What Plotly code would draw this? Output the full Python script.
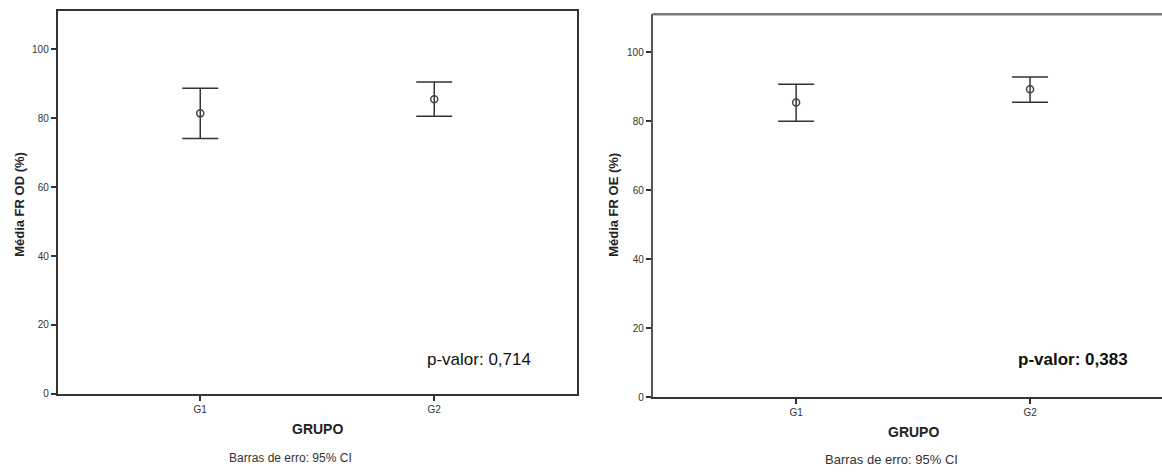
import plotly.graph_objects as go

groups = ["G1", "G2"]
# Left panel: Média FR OD (%)
od_mean = [81.4, 85.5]
od_lower = [74.1, 80.6]
od_upper = [88.7, 90.5]
# Right panel: Média FR OE (%)
oe_mean = [85.4, 89.3]
oe_lower = [80.0, 85.5]
oe_upper = [90.7, 92.8]
y_ticks = [0, 20, 40, 60, 80, 100]

W, H = 1162, 472
LINE = "#333333"
SANS = "Liberation Sans, Arial, sans-serif"


def px_x(p):
    return p / W


def px_y(p):
    return 1 - p / H


def err_trace(means, lows, ups, xa, ya):
    return go.Scatter(
        x=groups, y=means, xaxis=xa, yaxis=ya, mode="markers",
        marker=dict(symbol="circle-open", size=7, color="#444444",
                    line=dict(width=1.5, color="#444444")),
        error_y=dict(type="data", symmetric=False,
                     array=[u - m for u, m in zip(ups, means)],
                     arrayminus=[m - l for m, l in zip(means, lows)],
                     color=LINE, thickness=1.5, width=18),
        showlegend=False, hoverinfo="skip", cliponaxis=False,
    )


fig = go.Figure()
fig.add_trace(err_trace(od_mean, od_lower, od_upper, "x", "y"))
fig.add_trace(err_trace(oe_mean, oe_lower, oe_upper, "x2", "y2"))

tickfont = dict(family=SANS, size=10, color="#333333")
common_x = dict(type="category", showline=True, linecolor=LINE, linewidth=1.5,
                ticks="outside", ticklen=5, tickwidth=1.5, tickcolor=LINE,
                showgrid=False, zeroline=False, tickfont=tickfont, fixedrange=True)
common_y = dict(showline=True, linecolor=LINE, linewidth=1.5, range=[0, 111],
                tickvals=y_ticks, ticks="outside", ticklen=5, tickwidth=1.5,
                tickcolor=LINE, showgrid=False, zeroline=False, tickfont=tickfont,
                fixedrange=True)

fig.update_layout(
    width=W, height=H,
    margin=dict(l=0, r=0, t=0, b=0),
    paper_bgcolor="white", plot_bgcolor="white",
    xaxis=dict(common_x, domain=[px_x(57.5), px_x(577)], range=[-0.61, 1.61],
               anchor="y", mirror=True),
    yaxis=dict(common_y, domain=[px_y(399), px_y(11.5)], anchor="x", mirror=True),
    xaxis2=dict(common_x, domain=[px_x(652.5), 1.0], range=[-0.614, 1.564],
                anchor="y2"),
    yaxis2=dict(common_y, domain=[px_y(402.3), px_y(14.5)], anchor="x2",
                linecolor="#555555"),
)

# top frame line of right panel (right side is cut off)
fig.add_shape(type="line", xref="x2 domain", yref="y2 domain", x0=0, x1=1, y0=1, y1=1,
              line=dict(color="#7a7a7a", width=2.5))

ann = []
# y-axis titles
ann.append(dict(x=px_x(19.5), y=px_y(207), text="<b>Média FR OD (%)</b>", textangle=-90,
                font=dict(family=SANS, size=13, color="#222222")))
ann.append(dict(x=px_x(613.5), y=px_y(208), text="<b>Média FR OE (%)</b>", textangle=-90,
                font=dict(family=SANS, size=13, color="#222222")))
# x-axis titles
ann.append(dict(x=px_x(317), y=px_y(435), text="<b>GRUPO</b>",
                font=dict(family=SANS, size=14, color="#222222")))
ann.append(dict(x=px_x(913), y=px_y(438), text="<b>GRUPO</b>",
                font=dict(family=SANS, size=14, color="#222222")))
# footnotes
ann.append(dict(x=px_x(290), y=px_y(464), text="Barras de erro: 95% CI",
                font=dict(family=SANS, size=12, color="#333333")))
ann.append(dict(x=px_x(891), y=px_y(465.5), text="Barras de erro: 95% CI",
                font=dict(family=SANS, size=13, color="#333333")))
# p-values
ann.append(dict(x=px_x(478.7), y=px_y(364), text="p-valor: 0,714",
                font=dict(family=SANS, size=17, color="#111111")))
ann.append(dict(x=px_x(1073), y=px_y(364), text="<b>p-valor: 0,383</b>",
                font=dict(family=SANS, size=17, color="#111111")))

for a in ann:
    a.update(xref="paper", yref="paper", showarrow=False, xanchor="center", yanchor="middle")
fig.update_layout(annotations=ann)

fig.write_html("out.html", config=dict(displayModeBar=False),
               post_script="document.body.style.margin='0px';document.body.style.overflow='hidden';")
